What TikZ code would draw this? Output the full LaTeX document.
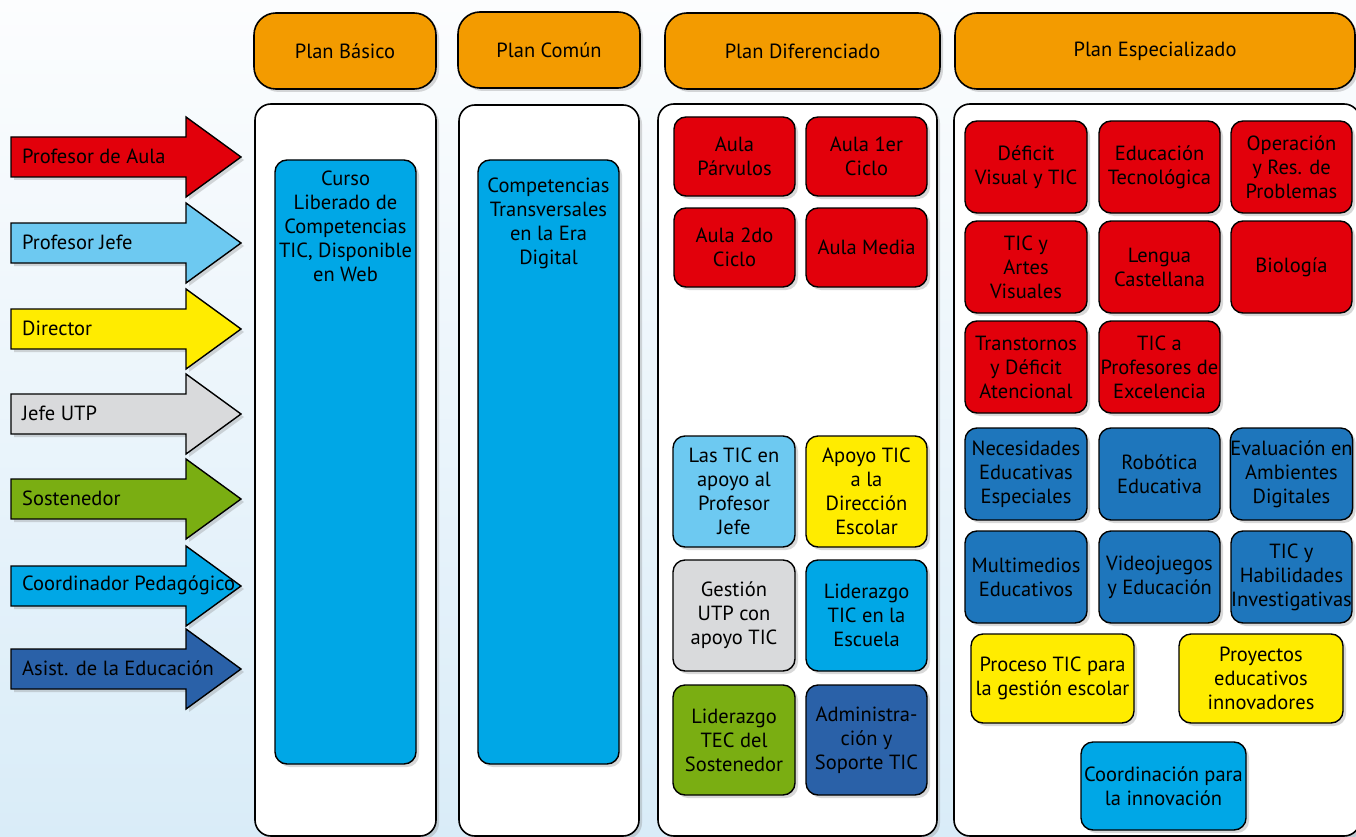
\documentclass[tikz,border=0pt]{standalone}
\usepackage{fontspec}
\setmainfont{PT Sans}
\usetikzlibrary{shadows}
\definecolor{bgtop}{HTML}{FCFDFE}
\definecolor{bgbot}{HTML}{D9ECF8}
\definecolor{cred}{HTML}{E2000B}
\definecolor{cltblue}{HTML}{6DC9F1}
\definecolor{cyel}{HTML}{FFEC00}
\definecolor{cgray}{HTML}{D9DADC}
\definecolor{cgreen}{HTML}{7AAE12}
\definecolor{ccyan}{HTML}{00A7E6}
\definecolor{cdkblue}{HTML}{2A61A8}
\definecolor{cmdblue}{HTML}{1E76BC}
\definecolor{corange}{HTML}{F39B00}
\tikzset{
  shd/.style={drop shadow={shadow xshift=3pt, shadow yshift=-3pt, opacity=0.3}},
  panel/.style={draw=black, line width=1.6pt, fill=white, rounded corners=16pt, shd},
  hdr/.style={draw=black, line width=1.6pt, fill=corange, rounded corners=22pt, shd, inner sep=0pt, align=center},
  box/.style={draw=black, line width=1.4pt, rounded corners=12pt, inner sep=0pt, align=center, shd},
  actor/.style={draw=black, line width=1.4pt, shd},
  txt/.style={inner sep=0pt, align=center},
}
\newcommand\bx[7]{\node[box, fill=#6, minimum width={#4-#2}, minimum height={#5-#3}] (#1) at ({(#2+#4)/2},{(#3+#5)/2}) {#7};}
\newcommand\actorarrow[4]{%
  \draw[actor, fill=#2] (11,{#1-20}) -- (186,{#1-20}) -- (186,{#1-40}) -- (241,#1) -- (186,{#1+40}) -- (186,{#1+20}) -- (11,{#1+20}) -- cycle;
  \node[txt, anchor=west] (#4) at (22,{#1-1}) {#3};}
\begin{document}
\begin{tikzpicture}[x=1pt, y=-1pt, font=\fontsize{20.5}{24}\selectfont]
\shade[top color=bgtop, bottom color=bgbot] (0,0) rectangle (1356,837);
\useasboundingbox (0,0) rectangle (1356,837);

% headers
\node[hdr, minimum width=182, minimum height=76] (h1) at (345,51) {Plan Básico};
\node[hdr, minimum width=182, minimum height=76] (h2) at (549,50) {Plan Común};
\node[hdr, minimum width=275, minimum height=76] (h3) at (802.5,51) {Plan Diferenciado};
\node[hdr, minimum width=400, minimum height=76] (h4) at (1155,51) {Plan Especializado};

% panels
\draw[panel] (255,104) rectangle (436,836);
\draw[panel] (459,105) rectangle (639,836);
\draw[panel] (658,104) rectangle (937,836);
\draw[panel] (954,104) rectangle (1360,836);

% arrows
\actorarrow{157}{cred}{Profesor de Aula}{a1}
\actorarrow{243}{cltblue}{Profesor Jefe}{a2}
\actorarrow{329}{cyel}{Director}{a3}
\actorarrow{414}{cgray}{Jefe UTP}{a4}
\actorarrow{499}{cgreen}{Sostenedor}{a5}
\actorarrow{586}{ccyan}{Coordinador Pedagógico}{a6}
\actorarrow{669}{cdkblue}{Asist. de la Educación}{a7}

% column 1 and 2
\bx{c1}{275}{160}{416}{764}{ccyan}{}
\node[txt, anchor=north] (c1t) at (345.5,171) {Curso\\Liberado de\\Competencias\\TIC, Disponible\\en Web};
\bx{c2}{478}{160}{619}{764}{ccyan}{}
\node[txt, anchor=north] (c2t) at (548.5,178) {Competencias\\Transversales\\en la Era\\Digital};

% column 3
\bx{d1}{674}{117}{795}{196}{cred}{Aula\\Párvulos}
\bx{d2}{806}{117}{927}{196}{cred}{Aula 1er\\Ciclo}
\bx{d3}{674}{208}{795}{287}{cred}{Aula 2do\\Ciclo}
\bx{d4}{806}{208}{927}{287}{cred}{Aula Media}
\bx{d5}{673}{436}{795}{547}{cltblue}{Las TIC en\\apoyo al\\Profesor\\Jefe}
\bx{d6}{806}{436}{927}{547}{cyel}{Apoyo TIC\\a la\\Dirección\\Escolar}
\bx{d7}{673}{560}{795}{671}{cgray}{Gestión\\UTP con\\apoyo TIC}
\bx{d8}{806}{560}{927}{671}{ccyan}{Liderazgo\\TIC en la\\Escuela}
\bx{d9}{673}{685}{795}{795}{cgreen}{Liderazgo\\TEC del\\Sostenedor}
\bx{d10}{806}{685}{927}{795}{cdkblue}{Administra-\\ción y\\Soporte TIC}

% column 4
\bx{e1}{965}{121}{1087}{213}{cred}{Déficit\\Visual y TIC}
\bx{e2}{1099}{121}{1220}{213}{cred}{Educación\\Tecnológica}
\bx{e3}{1231}{121}{1352}{213}{cred}{Operación\\y Res. de\\Problemas}
\bx{e4}{965}{221}{1087}{313}{cred}{TIC y\\Artes\\Visuales}
\bx{e5}{1099}{221}{1220}{313}{cred}{Lengua\\Castellana}
\bx{e6}{1231}{221}{1352}{313}{cred}{Biología}
\bx{e7}{965}{321}{1087}{413}{cred}{Transtornos\\y Déficit\\Atencional}
\bx{e8}{1099}{321}{1220}{413}{cred}{TIC a\\Profesores de\\Excelencia}
\bx{e9}{965}{428}{1087}{520}{cmdblue}{Necesidades\\Educativas\\Especiales}
\bx{e10}{1099}{428}{1220}{520}{cmdblue}{Robótica\\Educativa}
\bx{e11}{1231}{428}{1352}{520}{cmdblue}{Evaluación en\\Ambientes\\Digitales}
\bx{e12}{965}{531}{1087}{623}{cmdblue}{Multimedios\\Educativos}
\bx{e13}{1099}{531}{1220}{623}{cmdblue}{Videojuegos\\y Educación}
\bx{e14}{1231}{531}{1352}{623}{cmdblue}{TIC y\\Habilidades\\Investigativas}
\bx{e15}{971}{634}{1134}{723}{cyel}{Proceso TIC para\\la gestión escolar}
\bx{e16}{1179}{634}{1343}{723}{cyel}{Proyectos\\educativos\\innovadores}
\bx{e17}{1081}{742}{1246}{830}{ccyan}{Coordinación para\\la innovación}
\end{tikzpicture}
\end{document}
